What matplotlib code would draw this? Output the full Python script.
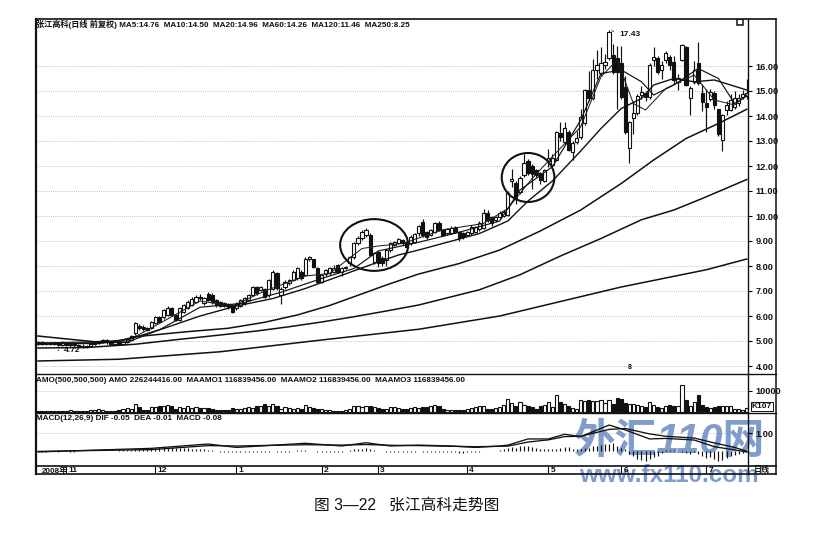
import matplotlib
matplotlib.use('Agg')
import matplotlib.pyplot as plt
from matplotlib.lines import Line2D
from matplotlib.patches import Ellipse, Rectangle

W, H = 819, 536
LEFT, RIGHT, SCALE_R = 36, 748, 776
FONT = ['Liberation Sans', 'Noto Sans CJK SC']

# 日线数据
opens = [4.90,4.95,4.88,4.94,4.88,4.93,4.86,4.92,4.85,4.90,4.84,4.80,4.76,4.82,4.88,4.92,4.96,5.04,4.96,4.90,
         4.96,4.90,4.98,5.04,5.31,5.60,5.57,5.51,5.51,5.71,5.97,5.95,6.04,6.31,6.04,5.84,6.17,6.31,6.44,6.57,
         6.77,6.51,6.88,6.84,6.64,6.57,6.51,6.48,6.44,6.31,6.40,6.51,6.64,6.84,7.15,7.04,7.07,6.84,7.10,7.71,
         6.84,7.15,7.31,7.44,7.51,7.77,7.64,8.27,8.27,7.91,7.37,7.68,7.71,7.77,8.04,7.77,7.91,8.11,8.37,8.91,
         9.11,9.24,9.24,8.17,8.57,8.31,8.24,8.64,8.84,8.93,9.04,8.97,8.91,8.97,9.33,9.77,9.37,9.24,9.37,9.73,
         9.44,9.30,9.33,9.57,9.37,9.31,9.24,9.31,9.37,9.47,9.51,10.11,9.97,9.84,9.97,10.00,10.04,11.42,11.31,10.97,
         11.64,12.21,12.00,11.84,11.73,11.41,12.20,12.04,12.24,13.31,12.97,13.37,12.57,12.97,13.17,13.71,15.04,14.71,15.84,15.71,
         16.04,16.31,16.44,16.31,16.11,15.17,12.71,13.91,14.11,14.84,14.91,14.77,16.24,16.31,15.84,16.24,16.37,16.17,15.37,16.24,
         16.75,14.71,15.37,16.11,14.93,14.53,14.67,14.91,14.27,13.04,14.24,14.24,14.37,14.51,14.75,14.80]
closes = [4.95,4.88,4.94,4.88,4.93,4.86,4.92,4.85,4.90,4.84,4.80,4.76,4.82,4.88,4.92,4.96,5.04,4.96,4.90,4.96,
          4.90,4.98,5.08,5.20,5.71,5.51,5.47,5.44,5.77,5.97,5.77,6.24,6.31,6.04,5.84,6.31,6.44,6.57,6.67,6.77,
          6.71,6.71,6.64,6.57,6.44,6.40,6.40,6.37,6.17,6.48,6.64,6.71,6.84,7.15,6.91,7.15,6.77,7.44,7.75,7.11,
          7.07,7.37,7.44,7.77,7.91,7.51,8.27,8.37,7.97,7.37,7.64,7.84,7.91,7.91,7.77,7.91,7.97,8.37,8.91,9.11,
          9.37,9.44,8.44,8.51,8.11,8.11,8.64,8.91,8.97,9.07,8.91,8.77,9.17,9.28,9.60,9.24,9.17,9.44,9.71,9.44,
          9.24,9.47,9.51,9.37,9.11,9.17,9.37,9.57,9.55,9.71,10.11,9.84,9.71,9.97,10.11,10.17,10.91,11.47,10.71,11.51,
          12.11,11.71,11.68,11.64,11.44,11.84,12.30,12.30,13.37,13.17,13.51,12.64,12.91,13.11,13.97,15.04,14.71,15.84,16.04,16.11,
          16.17,17.37,15.77,15.77,14.77,13.37,13.77,14.11,14.80,14.97,14.75,16.04,16.37,15.77,16.04,16.51,16.04,15.44,15.51,16.84,
          15.24,15.11,15.84,15.31,14.57,14.37,14.97,14.44,13.28,14.04,14.44,14.64,14.71,14.71,14.87,14.91]
highs = [5.00,5.00,4.98,4.98,4.98,4.96,5.00,4.96,4.94,4.92,4.90,4.88,4.86,4.92,5.00,5.02,5.10,5.08,5.02,5.00,
         5.00,5.02,5.14,5.25,5.78,5.70,5.65,5.58,5.82,6.02,6.02,6.30,6.40,6.38,6.10,6.36,6.50,6.65,6.75,6.85,
         6.88,6.78,6.95,6.92,6.70,6.62,6.56,6.52,6.50,6.55,6.70,6.76,6.90,7.20,7.20,7.22,7.12,7.50,7.85,7.78,
         7.15,7.45,7.50,7.85,7.98,7.85,8.35,8.42,8.30,7.95,7.70,7.90,7.96,8.05,8.08,7.95,8.02,8.42,8.98,9.20,
         9.45,9.52,9.30,8.58,8.62,8.40,8.70,8.96,9.02,9.12,9.10,9.02,9.22,9.33,9.65,9.90,9.42,9.50,9.75,9.82,
         9.48,9.52,9.62,9.62,9.40,9.36,9.42,9.64,9.60,9.80,10.27,10.25,10.02,10.02,10.20,10.25,11.00,11.87,11.40,11.60,
         12.50,12.28,12.10,11.90,11.78,11.90,12.70,12.50,13.40,13.75,13.75,13.45,13.00,13.40,14.30,15.10,15.80,16.30,16.65,16.75,
         16.50,17.43,16.90,16.80,16.80,15.60,13.80,14.60,14.90,15.20,15.00,16.10,16.75,16.40,16.20,16.60,16.45,16.40,15.70,16.88,
         16.80,15.20,16.20,16.95,15.30,15.10,15.10,15.00,14.30,14.10,14.60,14.90,15.00,14.90,15.05,15.50]
lows = [4.85,4.85,4.85,4.84,4.84,4.82,4.80,4.80,4.78,4.76,4.74,4.72,4.72,4.78,4.84,4.88,4.92,4.90,4.86,4.86,
        4.86,4.86,4.94,5.00,5.25,5.45,5.42,5.40,5.48,5.68,5.72,5.90,6.00,6.00,5.80,5.80,6.12,6.28,6.40,6.52,
        6.65,6.46,6.60,6.50,6.38,6.35,6.35,6.30,6.12,6.25,6.35,6.45,6.60,6.80,6.85,7.00,6.72,6.78,7.05,7.05,
        6.50,7.10,7.25,7.40,7.46,7.45,7.60,8.20,7.92,7.32,7.32,7.62,7.66,7.72,7.72,7.62,7.88,8.02,8.30,8.85,
        9.05,9.18,8.40,8.10,7.95,8.00,8.00,8.58,8.80,8.88,8.86,8.72,8.86,8.92,9.20,9.15,9.10,9.20,9.32,9.38,
        9.20,9.25,9.28,9.32,9.00,9.10,9.20,9.26,9.32,9.42,9.46,9.78,9.60,9.78,9.92,9.95,10.00,11.17,10.50,10.90,
        11.55,11.65,11.10,11.55,11.30,11.35,11.95,11.98,12.20,13.00,12.90,12.60,12.25,12.90,13.10,13.65,14.60,14.65,15.50,15.60,
        15.90,16.25,15.70,14.30,14.70,13.30,12.13,13.30,14.05,14.70,14.60,14.70,16.00,15.70,15.50,16.10,15.85,15.30,15.05,16.20,
        15.20,14.04,15.30,15.25,14.20,13.37,14.60,14.30,13.20,12.60,14.05,14.20,14.30,14.40,14.70,14.70]

# 均线 (day index, price)
ma5_days = [0,22,30,40,48,56,66,72,80,84,90,100,110,116,122,127,134,139,143,147,150,155,162,167,172,175]
ma5_vals = [4.92,5.00,5.70,6.60,6.40,7.00,7.60,7.70,8.70,8.80,8.90,9.45,9.70,10.30,11.50,12.37,13.57,15.57,16.24,14.50,14.24,15.10,15.64,14.64,14.44,14.84]
ma10_days = [0,22,30,40,50,60,70,78,84,94,104,114,119,127,134,139,144,149,152,157,163,168,172,175]
ma10_vals = [4.90,4.95,5.45,6.35,6.50,6.95,7.50,7.90,8.60,8.95,9.35,9.80,11.04,11.97,13.84,15.70,15.84,15.37,14.84,15.24,15.90,15.50,14.50,14.80]
ma20_days = [0,15,23,31,40,49,58,66,74,83,89,94,109,116,121,127,134,139,144,149,152,157,162,167,175]
ma20_vals = [4.90,4.90,5.10,5.50,6.00,6.40,6.70,7.10,7.57,8.10,8.44,8.64,9.30,9.80,10.60,11.40,12.60,13.50,14.30,14.70,15.24,15.50,15.37,15.44,15.04]
ma60_days = [0,6,14,20,24,36,47,56,64,72,78,86,94,104,114,124,134,144,152,160,168,175]
ma60_vals = [5.20,5.10,4.97,5.00,5.17,5.36,5.51,5.75,6.04,6.42,6.77,7.24,7.68,8.10,8.64,9.40,10.24,11.30,12.24,13.10,13.70,14.27]
ma120_days = [0,12,24,34,45,54,62,70,78,86,94,109,119,129,139,149,157,164,175]
ma120_vals = [4.72,4.74,4.87,5.05,5.24,5.40,5.57,5.76,5.97,6.20,6.44,7.05,7.65,8.40,9.10,9.85,10.24,10.70,11.46]
ma250_days = [0,20,45,70,94,114,144,165,175]
ma250_vals = [4.20,4.27,4.57,5.04,5.47,6.00,7.16,7.85,8.28]

# 成交额 AMO
amo = [500,600,450,500,600,400,450,500,800,550,450,500,600,700,900,1200,800,600,500,600,
       900,1300,1800,1500,3950,2200,900,800,2300,2500,2600,2800,3500,2800,1500,2400,2000,2800,2000,2200,
       1800,2000,1800,1500,1000,900,800,700,1800,1500,1300,2000,2200,2000,2800,3000,3800,2800,3950,2600,
       1500,2200,1800,1600,2000,1500,3500,2400,1800,1300,1500,800,700,600,600,500,700,1500,2700,2900,
       2400,2600,2700,2200,1800,1300,1600,2300,2500,2000,1600,1200,2000,2400,1900,2500,2300,2800,3150,2900,
       1500,1100,900,700,800,1000,1200,2000,2400,2800,2600,1500,1300,2000,2400,3200,6300,4300,3000,4700,
       3200,2600,2200,1600,2600,3100,4800,2400,7900,4700,3600,3000,1700,1200,5500,5200,5600,5000,5400,5700,
       4400,5600,3800,6400,6200,4300,3800,3600,3300,2900,2500,4700,3300,2400,2100,2800,3200,3000,2800,12700,
       5500,3000,4800,7900,3200,2400,2000,2400,2800,3000,2600,2700,1400,1200,1000,1700]
amo_ticks = [10000]

# MACD
dif_days = [0,28,42,49,66,75,81,87,94,102,108,114,116,121,126,130,134,141,145,151,155,162,167,172,175]
dif_vals = [-0.05,0.15,0.39,0.20,0.43,0.28,0.46,0.28,0.33,0.28,0.20,0.28,0.33,0.67,0.67,0.93,0.80,1.44,1.17,0.67,0.70,0.61,0.24,0.06,-0.05]
dea_days = [0,28,42,49,66,75,81,87,94,108,116,121,126,130,134,141,145,151,155,162,167,172,175]
dea_vals = [-0.02,0.08,0.30,0.28,0.35,0.33,0.36,0.32,0.30,0.24,0.27,0.50,0.62,0.80,0.82,1.20,1.25,0.95,0.82,0.72,0.45,0.20,-0.01]
macd_hist = [-0.02,-0.03,-0.03,-0.02,-0.02,-0.03,-0.02,-0.02,-0.03,-0.03,-0.02,-0.02,-0.02,-0.01,0.00,0.01,0.01,0.01,0.02,0.02,
             0.03,0.04,0.05,0.08,0.12,0.14,0.15,0.15,0.16,0.18,0.20,0.20,0.22,0.22,0.18,0.18,0.16,0.15,0.14,0.12,
             0.12,0.10,0.08,0.05,0.02,-0.03,-0.05,-0.07,-0.08,-0.08,-0.06,-0.05,-0.04,-0.03,-0.03,-0.04,-0.05,-0.03,-0.02,-0.03,
             -0.04,-0.03,-0.03,0.02,0.03,0.04,0.05,0.02,-0.02,-0.03,-0.03,-0.04,-0.04,-0.05,-0.04,-0.03,-0.02,0.05,0.09,0.12,
             0.14,0.15,0.10,0.05,0.00,-0.02,-0.04,-0.04,-0.03,-0.03,-0.03,-0.05,-0.04,-0.03,-0.02,-0.04,-0.04,-0.03,-0.03,-0.05,
             -0.06,-0.07,-0.08,-0.08,-0.09,-0.09,-0.07,-0.05,-0.04,-0.03,-0.01,-0.02,-0.02,0.00,0.05,0.12,0.18,0.22,0.18,0.26,
             0.28,0.26,0.22,0.15,0.12,0.10,0.12,0.14,0.12,0.15,0.22,0.25,0.12,0.10,0.14,0.16,0.18,0.28,0.30,0.35,
             0.40,0.38,0.42,0.30,0.18,0.10,-0.15,-0.30,-0.42,-0.50,-0.58,-0.45,-0.35,-0.25,-0.10,0.05,0.08,0.06,0.02,-0.05,
             -0.10,-0.18,-0.05,-0.15,-0.30,-0.38,-0.32,-0.42,-0.55,-0.48,-0.38,-0.30,-0.22,-0.15,-0.10,-0.08]

price_ticks = [4,5,6,7,8,9,10,11,12,13,14,15,16]
month_days = [7,29,49,70,84,106,126,144,165]
month_labels = ['11','12','1','2','3','4','5','6','7']

header = '张江高科(日线 前复权) MA5:14.76  MA10:14.50  MA20:14.96  MA60:14.26  MA120:11.46  MA250:8.25'
amo_header = 'AMO(500,500,500) AMO 226244416.00  MAAMO1 116839456.00  MAAMO2 116839456.00  MAAMO3 116839456.00'
macd_header = 'MACD(12,26,9) DIF -0.05  DEA -0.01  MACD -0.08'
caption = '图 3—22   张江高科走势图'


def fx(px):
    return px / W


def fy(py):
    return 1 - py / H


def panel(top, bottom):
    ax = fig.add_axes([fx(LEFT), fy(bottom), fx(RIGHT - LEFT), (bottom - top) / H])
    ax.set_facecolor('none')
    ax.set_xlim(-0.49, 175.3)
    ax.set_xticks([])
    ax.yaxis.tick_right()
    ax.tick_params(axis='y', length=3, width=0.8, pad=2.5, labelsize=6.6, labelcolor='#111111')
    for s in ax.spines.values():
        s.set_visible(False)
    return ax


def frame_line(x0, y0, x1, y1, lw=1.0):
    fig.add_artist(Line2D([fx(x0), fx(x1)], [fy(y0), fy(y1)], color='#111111', lw=lw))


plt.rcParams['font.family'] = FONT
plt.rcParams['font.weight'] = 'bold'
fig = plt.figure(figsize=(W / 100, H / 100), dpi=100, facecolor='white')

# 水印
fig.text(fx(669), fy(442), '外汇110网', color='#7f9ccd', fontsize=30, ha='center', va='center',
         style='italic', zorder=-1)
fig.text(fx(669), fy(476), 'www.fx110.com', color='#7f9ccd', fontsize=17.5, ha='center', va='center', zorder=-1)

# 主图
ax = panel(19, 374)
ax.set_ylim(3.68, 17.88)
ax.set_yticks(price_ticks)
ax.set_yticklabels(['%.2f' % p for p in price_ticks])
ax.grid(axis='y', color='#8a8a8a', lw=0.5, ls=(0, (1, 2)))
ax.set_axisbelow(True)

days = list(range(len(closes)))
for d, o, c, hi, lo in zip(days, opens, closes, highs, lows):
    ax.vlines(d, lo, hi, color='#111111', lw=0.85, zorder=2)
    ax.bar(d, abs(c - o), bottom=min(o, c), width=0.78,
           facecolor='white' if c >= o else '#111111', edgecolor='#111111', lw=0.8, zorder=3)

ax.plot(ma5_days, ma5_vals, color='#222222', lw=0.75, zorder=4)
ax.plot(ma10_days, ma10_vals, color='#111111', lw=0.85, zorder=4)
ax.plot(ma20_days, ma20_vals, color='#111111', lw=1.0, zorder=4)
ax.plot(ma60_days, ma60_vals, color='#111111', lw=1.1, zorder=4)
ax.plot(ma120_days, ma120_vals, color='#111111', lw=1.1, zorder=4)
ax.plot(ma250_days, ma250_vals, color='#111111', lw=1.1, zorder=4)

ax.add_patch(Ellipse((83, 8.84), 16.8, 2.07, fill=False, edgecolor='#111111', lw=1.5, zorder=5))
ax.add_patch(Ellipse((121, 11.54), 13, 1.96, fill=False, edgecolor='#111111', lw=1.5, zorder=5))

ax.annotate('17.43', xy=(141, 17.43), xytext=(143.5, 17.25), fontsize=6, va='center', color='#111111',
            arrowprops=dict(arrowstyle='-', lw=0.6, color='#111111'))
ax.annotate('4.72', xy=(5, 4.63), xytext=(6.5, 4.63), fontsize=6, va='center', color='#111111',
            arrowprops=dict(arrowstyle='-', lw=0.8, color='#111111'))
ax.text(146, 3.93, '8', fontsize=5, ha='center', va='center', color='#111111')
ax.add_patch(Rectangle((0.9845, 0.9835), 0.009, 0.0165, transform=ax.transAxes, fill=False,
                       edgecolor='#111111', lw=1.1))
fig.text(fx(36), fy(24), header, fontsize=5.9, va='center', color='#111111')

# AMO
ax2 = panel(374, 413)
ax2.set_ylim(-500, 18000)
ax2.set_yticks(amo_ticks)
ax2.grid(axis='y', color='#999999', lw=0.5, ls=(0, (1, 2)))
ax2.set_axisbelow(True)
ax2.bar(days, amo, width=0.78, color=['white' if c >= o else '#111111' for o, c in zip(opens, closes)],
        edgecolor='#111111', lw=0.8)
ax2.axhline(-300, color='#333333', lw=0.8)
fig.text(fx(36), fy(380), amo_header, fontsize=5.9, va='center', color='#111111')
fig.text(fx(762), fy(406.5), 'K107', fontsize=6, ha='center', va='center', color='#111111',
         bbox=dict(boxstyle='square,pad=0.15', facecolor='white', edgecolor='#111111', lw=0.7))

# MACD
ax3 = panel(413, 466)
ax3.set_ylim(-0.83, 2.11)
ax3.set_yticks([1])
ax3.set_yticklabels(['1.00'])
ax3.grid(axis='y', color='#999999', lw=0.5, ls=(0, (1, 2)))
ax3.set_axisbelow(True)
ax3.vlines(days, 0, macd_hist, color='#111111', lw=0.85)
ax3.plot(dif_days, dif_vals, color='#111111', lw=0.95)
ax3.plot(dea_days, dea_vals, color='#111111', lw=0.95)
fig.text(fx(36), fy(418), macd_header, fontsize=5.9, va='center', color='#111111')

# 日期轴
ax4 = panel(466, 474)
ax4.set_ylim(0, 1)
ax4.set_yticks([])
ax4.vlines(month_days, 0, 1, color='#111111', lw=0.8)
for d, lab in zip(month_days, month_labels):
    ax4.text(d + 0.5, 0.42, lab, fontsize=6, va='center', color='#111111')
ax4.text(1, 0.42, '2008年', fontsize=5.8, va='center', color='#111111')
fig.text(fx(762), fy(470), '日线', fontsize=5.8, ha='center', va='center', color='#111111')

# 边框
frame_line(LEFT, 19, SCALE_R, 19, 1.2)
frame_line(LEFT, 374, SCALE_R, 374, 1.0)
frame_line(LEFT, 413, SCALE_R, 413, 1.0)
frame_line(LEFT, 466, SCALE_R, 466, 1.2)
frame_line(LEFT, 474, SCALE_R, 474, 1.2)
frame_line(LEFT, 19, LEFT, 474, 1.6)
frame_line(RIGHT, 19, RIGHT, 474, 1.0)
frame_line(SCALE_R, 19, SCALE_R, 474, 1.1)

fig.text(fx(407), fy(505), caption, fontsize=11.3, ha='center', va='center', color='#111111', weight='normal')

fig.savefig('out.png', dpi=100)
